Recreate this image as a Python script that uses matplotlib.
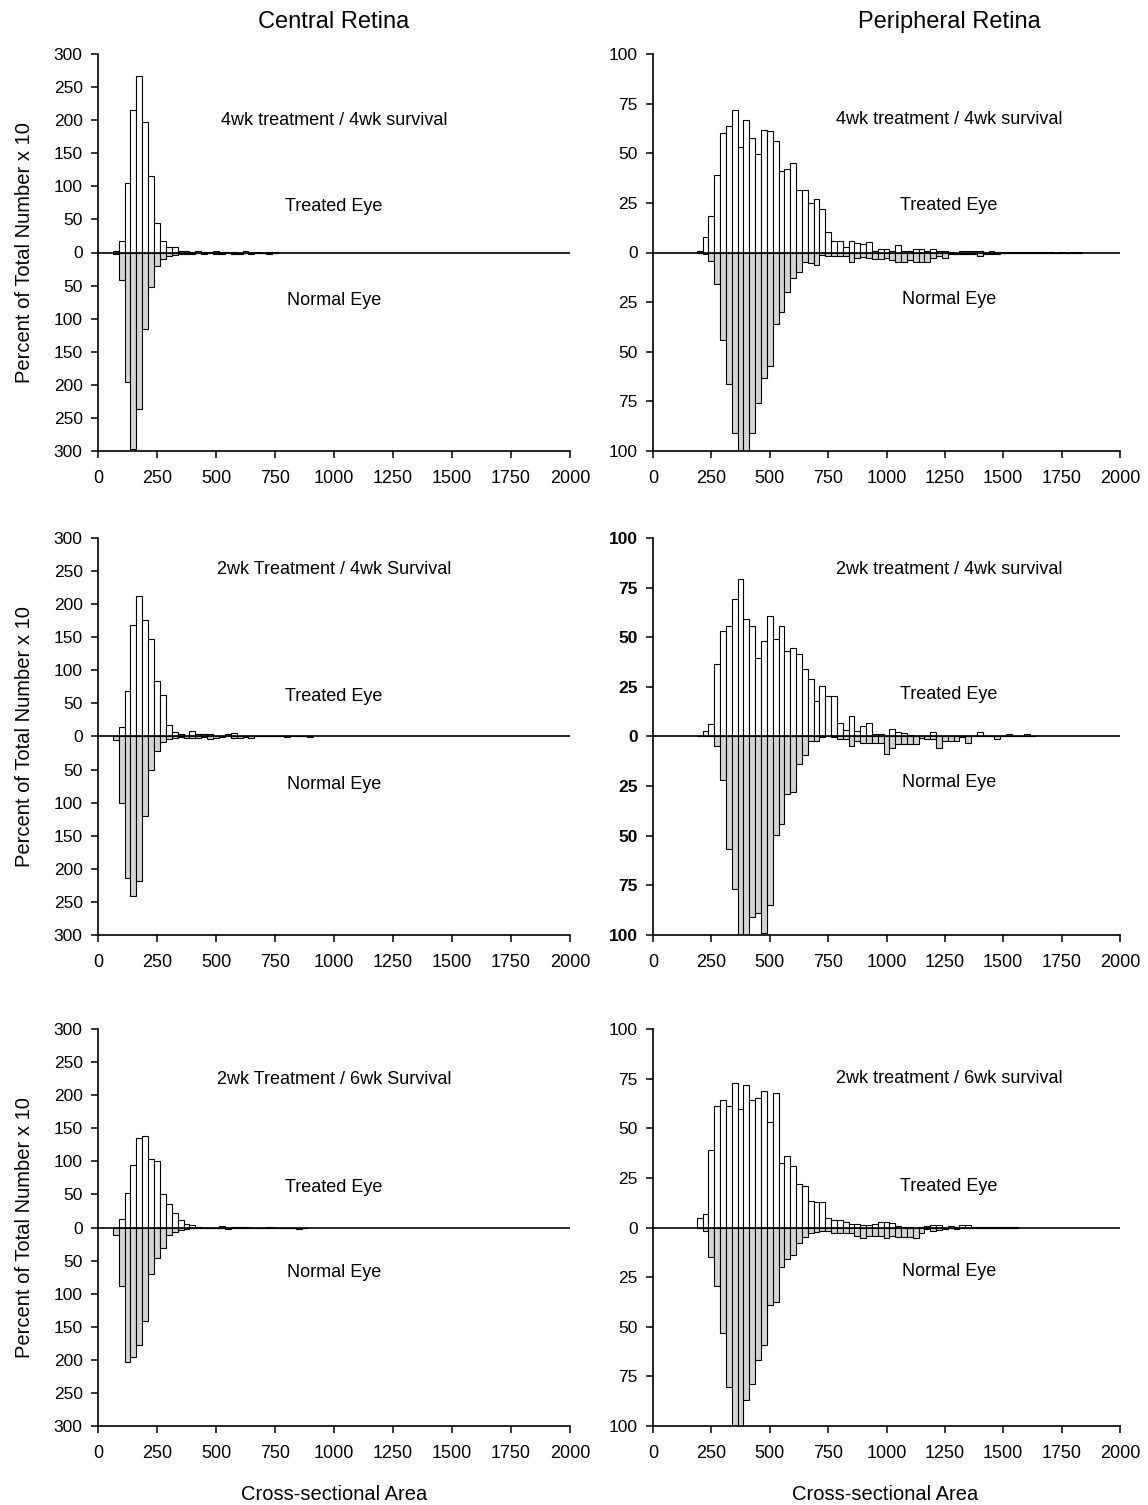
import numpy as np
import matplotlib
matplotlib.use("Agg")
import matplotlib.pyplot as plt

plt.rcParams['font.family'] = ['Liberation Sans', 'DejaVu Sans']

# bin centres (cross-sectional area, 25 units per bin)
c44_bins = np.arange(75, 775, 25)
c44_treated = [2, 18, 105, 215, 266, 197, 116, 45, 18, 9, 9, 3, 2, 1,
               2, 1, 1, 2, 1, 1, 1, 0, 2, 1, 1, 0, 1, 1]
c44_normal = [3, 42, 195, 297, 236, 116, 52, 20, 10, 5, 4, 3, 2, 2,
              1, 2, 1, 2, 2, 1, 2, 2, 1, 2, 1, 1, 2, 1]

c24_bins = np.arange(75, 925, 25)
c24_treated = [0, 14, 69, 169, 213, 176, 148, 84, 63, 17, 7, 4, 1, 8, 4, 4, 4,
               0, 0, 4, 5, 0, 0, 0, 0, 0, 0, 0, 0, 1, 0, 0, 0, 1]
c24_normal = [5, 101, 214, 241, 219, 120, 50, 22, 8, 4, 2, 1, 2, 3, 3, 1, 4,
              2, 1, 0, 2, 2, 1, 2, 0, 0, 0, 0, 0, 1, 0, 0, 0, 1]

c26_bins = np.arange(75, 900, 25)
c26_treated = [0, 13, 52, 95, 135, 139, 104, 101, 51, 36, 22, 11, 6, 4, 1.5,
               0, 0, 0, 3, 0, 1, 1, 1, 0, 0, 0, 1, 0, 0, 0, 0, 0, 0]
c26_normal = [12, 89, 204, 195, 177, 141, 70, 46, 31, 11, 7, 4, 2, 1, 1,
              0, 1.5, 1, 0, 2, 0, 0, 0, 0, 0, 0, 1, 0, 0, 0, 0, 2, 0]

p44_bins = np.arange(200, 1850, 25)
p44_treated = [1, 8, 18.5, 39, 60, 63.5, 72, 53, 66.5, 57.5, 49.5, 61.5, 61, 56,
               41, 42, 45, 31.5, 31.5, 25, 27, 22, 10.5, 6, 6, 3, 6, 5, 4.5, 5.5,
               1, 2, 2, 1, 4, 1, 1, 2, 2, 1, 2, 1, 1, 0.5, 0, 1, 1, 1, 1, 0.5,
               1, 0.5, 0.5, 0.5, 0.3, 0.3, 0.3, 0.3, 0.3, 0.3, 0.3, 0, 0.3, 0,
               0.3, 0.3]
p44_normal = [0, 1, 4.5, 16, 44, 66, 91, 105, 105, 91, 76, 63, 57, 36,
              30, 20, 13, 10, 5, 5.5, 6.5, 1.5, 2, 2, 2, 2, 5, 3, 2.5, 3,
              3.5, 3.5, 3, 4, 5, 5, 4, 5, 5, 5, 3, 2, 3, 1, 1, 1, 1, 1, 2, 1,
              1, 1, 0.5, 0.3, 0.3, 0.3, 0.3, 0.3, 0.3, 0.3, 0.3, 0, 0.3, 0,
              0.3, 0.3]

p24_bins = np.arange(200, 1650, 25)
p24_treated = [0, 2.7, 6.4, 36.7, 53, 55.6, 69.4, 79.3, 59.4, 55.6, 39.4, 48,
               60.6, 49.3, 55.6, 43, 44.4, 41.8, 34.2, 28.8, 17.8, 25.4, 20.4,
               20.4, 6.6, 3.5, 10.3, 3, 5.2, 6.6, 1.5, 1.5, 0, 3.7, 2.4, 1.7,
               1, 0.5, 0.5, 0.5, 2.5, 0, 0, 0, 0, 0.5, 0, 0.5, 2.5, 0, 0, 0,
               0.5, 1.3, 0.5, 0, 1.2, 0]
p24_normal = [0, 0, 0, 5, 22, 56.6, 77, 105, 105, 90.7, 88.7, 99, 85, 49.5,
              44, 29, 28, 13.8, 9.4, 2.4, 2.4, 0.2, 0, 0.2, 1.5, 1.2, 4.9, 2.4,
              3.2, 3.2, 3.2, 3.2, 8.6, 5.7, 4, 4, 4, 4, 0.7, 1.2, 1.5, 6, 2.5,
              2.5, 2.5, 0.5, 3.4, 0, 0, 0, 0, 1.3, 0, 0, 0, 0, 0, 0]

p26_bins = np.arange(200, 1575, 25)
p26_treated = [4.7, 6.7, 39, 61, 64, 61, 73, 59.6, 72, 64, 65, 69, 53, 68,
               32.7, 36, 31, 22, 21, 13.3, 12.8, 13, 5, 4, 3.7, 3, 2, 2, 1.5,
               1.5, 2, 3, 3, 2.5, 1, 0.5, 0.5, 0, 0.5, 1, 1.2, 1.5, 0, 1, 0.5,
               1.5, 1.2, 0.5, 0.3, 0.3, 0.3, 0.3, 0.3, 0.3, 0.3]
p26_normal = [0, 2, 15, 29.3, 53, 80.5, 105, 105, 87, 79, 67, 59, 39, 37.5,
              20, 16, 14, 8, 5, 3, 2.5, 1.8, 2, 3, 2.7, 3, 2.7, 4.4, 5.5, 4.4,
              4.4, 4.4, 5.5, 4.4, 4.7, 4.7, 4.7, 5.2, 3, 1, 1.7, 1.5, 1, 0.5,
              1, 0.5, 0.5, 0.5, 0.5, 0.5, 0.3, 0.3, 0.3, 0.3, 0.3]

central_ticks = [300, 250, 200, 150, 100, 50, 0, -50, -100, -150, -200, -250, -300]
periph_ticks = [100, 75, 50, 25, 0, -25, -50, -75, -100]
x_ticks = [0, 250, 500, 750, 1000, 1250, 1500, 1750, 2000]

W, H = 1148, 1505
fig = plt.figure(figsize=(W / 100, H / 100), dpi=100)


def panel(px, py, pw, ph, bins, treated, normal, lim, ticks, title, y_title,
          y_treat, y_norm, tx, bold=False):
    ax = fig.add_axes([px / W, 1 - (py + ph) / H, pw / W, ph / H])
    ax.bar(bins, treated, width=25, color='white', edgecolor='black', lw=0.8)
    ax.bar(bins, -np.array(normal), width=25, color='#d4d4d4',
           edgecolor='black', lw=0.8)
    ax.axhline(0, color='black', lw=1.2)
    ax.set_xlim(0, 2000)
    ax.set_ylim(-lim, lim)
    ax.set_yticks(ticks)
    ax.set_yticklabels([str(abs(t)) for t in ticks],
                       fontweight='bold' if bold else 'normal')
    ax.set_xticks(x_ticks)
    ax.spines['top'].set_visible(False)
    ax.spines['right'].set_visible(False)
    ax.spines['left'].set_linewidth(1.2)
    ax.spines['bottom'].set_linewidth(1.2)
    ax.tick_params(direction='out', length=5, width=1.1)
    ax.tick_params(axis='x', pad=9, labelsize=13)
    ax.tick_params(axis='y', pad=6, labelsize=12.5)
    ax.text(tx, y_title, title, ha='center', va='center', fontsize=13)
    ax.text(tx, y_treat, 'Treated Eye', ha='center', va='center', fontsize=13)
    ax.text(tx, y_norm, 'Normal Eye', ha='center', va='center', fontsize=13)
    return ax


rows = [54, 538, 1029]
ph = 397
a1 = panel(98, rows[0], 472, ph, c44_bins, c44_treated, c44_normal, 300,
           central_ticks, '4wk treatment / 4wk survival', 200, 70, -72, 1000)
a2 = panel(653, rows[0], 467, ph, p44_bins, p44_treated, p44_normal, 100,
           periph_ticks, '4wk treatment / 4wk survival', 67, 23.5, -23.5, 1268)
a3 = panel(98, rows[1], 472, ph, c24_bins, c24_treated, c24_normal, 300,
           central_ticks, '2wk Treatment / 4wk Survival', 253, 61, -72, 1000)
a4 = panel(653, rows[1], 467, ph, p24_bins, p24_treated, p24_normal, 100,
           periph_ticks, '2wk treatment / 4wk survival', 84, 21, -23, 1268,
           bold=True)
a5 = panel(98, rows[2], 472, ph, c26_bins, c26_treated, c26_normal, 300,
           central_ticks, '2wk Treatment / 6wk Survival', 223, 60, -68, 1000)
a6 = panel(653, rows[2], 467, ph, p26_bins, p26_treated, p26_normal, 100,
           periph_ticks, '2wk treatment / 6wk survival', 75, 20.5, -22, 1268)

for ax in (a1, a3, a5):
    ax.set_ylabel('Percent of Total Number x 10', fontsize=14.5, labelpad=14)

fig.text(334 / W, 1 - 22 / H, 'Central Retina', ha='center', va='center',
         fontsize=17)
fig.text(949 / W, 1 - 22 / H, 'Peripheral Retina', ha='center', va='center',
         fontsize=17)
fig.text(334 / W, 1 - 1494 / H, 'Cross-sectional Area', ha='center',
         va='center', fontsize=14.5)
fig.text(885 / W, 1 - 1494 / H, 'Cross-sectional Area', ha='center',
         va='center', fontsize=14.5)

fig.savefig('out.png', dpi=100, facecolor='white')
